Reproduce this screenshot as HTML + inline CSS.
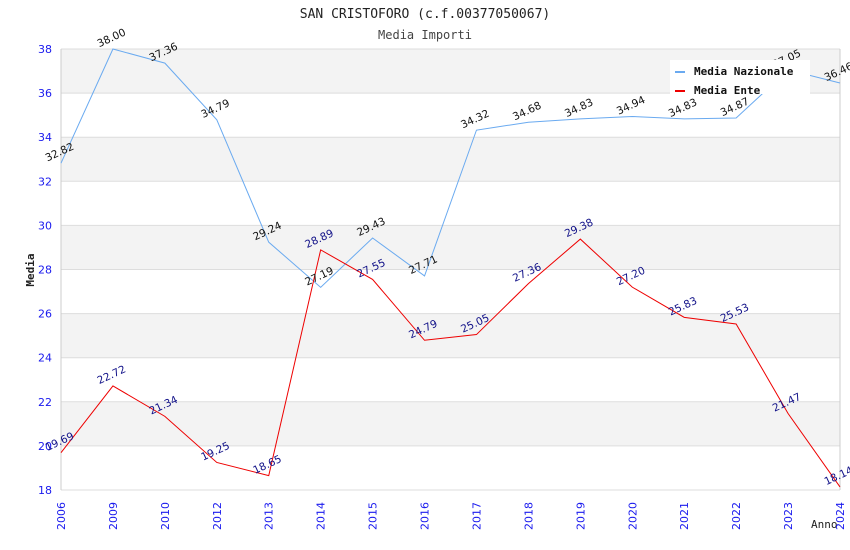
<!DOCTYPE html>
<html><head><meta charset="utf-8"><style>
body{margin:0;background:#fff}
svg{display:block;font-family:"DejaVu Sans Mono","Liberation Mono",monospace}
.s{font-family:"DejaVu Sans","Liberation Sans",sans-serif}
</style></head><body>
<svg id="c" width="850" height="550" viewBox="0 0 850 550">
<text x="425" y="18" text-anchor="middle" font-size="13" fill="#222">SAN CRISTOFORO (c.f.00377050067)</text>
<text x="425" y="39" text-anchor="middle" font-size="12" fill="#444">Media Importi</text>
<text x="34" y="270" text-anchor="middle" font-size="11" font-weight="bold" fill="#222" transform="rotate(-90 34 270)">Media</text>
<text x="811" y="528" font-size="11" fill="#222">Anno</text>
<g id="grid"></g><g id="series"></g><g id="labels"></g>
<g>
<rect x="670" y="60" width="140" height="34" fill="#fff"/>
<rect x="675" y="71" width="10" height="2" fill="#6aaaf0"/>
<text x="694" y="75" font-size="11" font-weight="bold" fill="#111">Media Nazionale</text>
<rect x="675" y="90" width="10" height="2" fill="#ee0000"/>
<text x="694" y="94" font-size="11" font-weight="bold" fill="#111">Media Ente</text>
</g>
</svg>
<script>
const categories=["2006","2009","2010","2012","2013","2014","2015","2016","2017","2018","2019","2020","2021","2022","2023","2024"];
const nazionale=[32.82,38.00,37.36,34.79,29.24,27.19,29.43,27.71,34.32,34.68,34.83,34.94,34.83,34.87,37.05,36.46];
const ente=[19.69,22.72,21.34,19.25,18.65,28.89,27.55,24.79,25.05,27.36,29.38,27.20,25.83,25.53,21.47,18.14];
const yTicks=[18,20,22,24,26,28,30,32,34,36,38];
const NS="http://www.w3.org/2000/svg";
const L=61,R=840,T=49,B=490,ymin=18,ymax=38;
const xs=i=>L+i*(R-L)/(categories.length-1);
const ys=v=>B-(v-ymin)/(ymax-ymin)*(B-T);
function mk(tag,attrs,parent){const e=document.createElementNS(NS,tag);for(const k in attrs)e.setAttribute(k,attrs[k]);parent.appendChild(e);return e;}
const grid=document.getElementById('grid'),ser=document.getElementById('series'),lab=document.getElementById('labels');
for(let i=0;i<yTicks.length-1;i++){
 if(i%2===1){const r=mk('rect',{x:L,y:ys(yTicks[i+1]),width:R-L,height:ys(yTicks[i])-ys(yTicks[i+1]),fill:'#f3f3f3'},grid);
 
 }
}
yTicks.forEach(v=>{
 const l=mk('line',{x1:L,x2:R,y1:ys(v),y2:ys(v),stroke:'#dddddd','stroke-width':1},grid);
 
 
 const t=mk('text',{x:L-9,y:ys(v)+4,'text-anchor':'end','font-size':11,fill:'#1a1aee',class:'s'},grid);
 t.textContent=v;
 
 
});
mk('line',{x1:L,x2:L,y1:T,y2:B,stroke:'#ccc'},grid);
mk('line',{x1:R,x2:R,y1:T,y2:B,stroke:'#ccc'},grid);
categories.forEach((c,i)=>{
 const x=xs(i)+4,y=530;
 const t=mk('text',{x:x,y:y,'font-size':11,fill:'#1a1aee',class:'s',transform:`rotate(-90 ${x} ${y})`},grid);
 t.textContent=c;
 
 
});
function series(vals,color,txtColor,name){
 const p=mk('polyline',{points:vals.map((v,i)=>xs(i)+','+ys(v)).join(' '),fill:'none',stroke:color,'stroke-width':1},ser);
 
 
 vals.forEach((v,i)=>{
  const x=xs(i),y=ys(v)-8;
  const t=mk('text',{x:x,y:y,'font-size':10.5,fill:txtColor,class:'s','text-anchor':'middle',transform:`rotate(-25 ${x} ${y})`},lab);
  t.textContent=v.toFixed(2);
  
  
 });
}
series(nazionale,'#6aaaf0','#111','nazionale');
series(ente,'#ee0000','#111188','ente');
</script>
</body></html>
